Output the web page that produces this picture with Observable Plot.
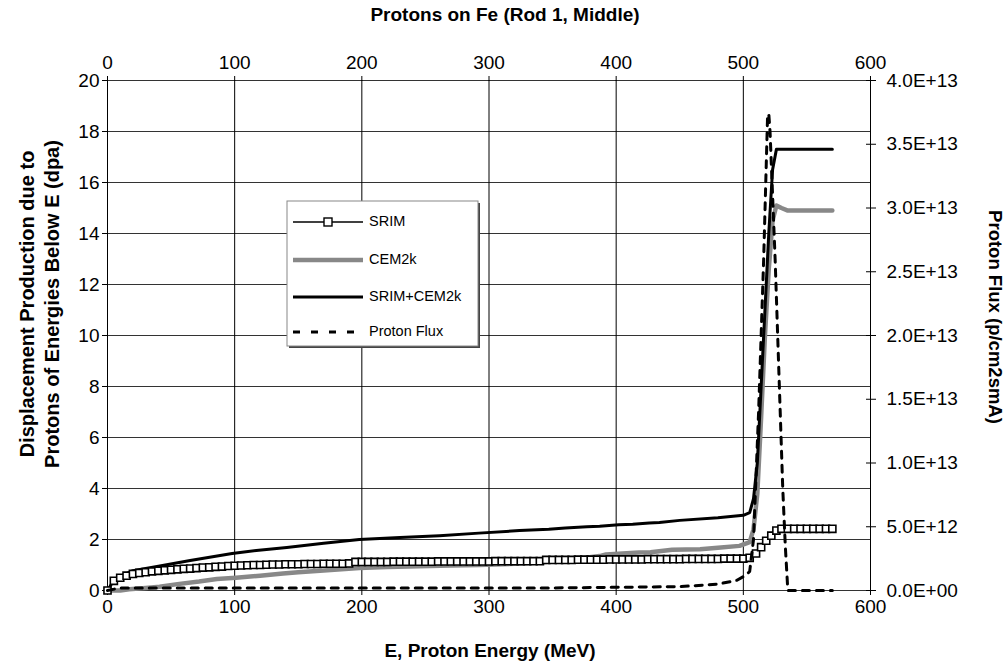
<!DOCTYPE html>
<html><head><meta charset="utf-8">
<script src="https://cdn.jsdelivr.net/npm/d3@7"></script>
<script src="https://cdn.jsdelivr.net/npm/@observablehq/plot@0.6"></script>
<style>body{margin:0;background:#fff} svg{display:block}</style>
</head><body><div id="chart"></div>
<script>
// ---- data ----
const xTicks = [0, 100, 200, 300, 400, 500, 600];
const yTicks = [0, 2, 4, 6, 8, 10, 12, 14, 16, 18, 20];
const fluxTicks = [0, 5e12, 1e13, 1.5e13, 2e13, 2.5e13, 3e13, 3.5e13, 4e13];
const fluxPerDpa = 2e12; // right axis 4.0E+13 <-> left axis 20

const srimE = [0,5,10,15,20,25,30,35,40,45,50,55,60,65,70,75,80,85,90,95,
  100,105,110,115,120,125,130,135,140,145,150,155,160,165,170,175,180,185,190,195,
  200,205,210,215,220,225,230,235,240,245,250,255,260,265,270,275,280,285,290,295,
  300,305,310,315,320,325,330,335,340,345,350,355,360,365,370,375,380,385,390,395,
  400,405,410,415,420,425,430,435,440,445,450,455,460,465,470,475,480,485,490,495,
  500,505,510,514,518,522,526,530,535,540,545,550,555,560,565,570];
const srimV = [0,0.38,0.5,0.58,0.65,0.69,0.72,0.75,0.77,0.79,0.81,0.83,0.85,0.86,0.88,0.9,0.91,0.93,0.94,0.96,
  0.97,0.98,0.99,1.0,1.0,1.01,1.02,1.02,1.03,1.03,1.03,1.04,1.04,1.04,1.05,1.05,1.05,1.05,1.06,1.12,
  1.12,1.12,1.12,1.12,1.12,1.13,1.13,1.13,1.13,1.13,1.13,1.13,1.14,1.14,1.14,1.14,1.14,1.14,1.14,1.14,
  1.14,1.15,1.15,1.15,1.15,1.15,1.15,1.15,1.15,1.2,1.2,1.2,1.2,1.2,1.21,1.21,1.21,1.21,1.21,1.22,
  1.22,1.22,1.22,1.22,1.22,1.23,1.23,1.23,1.23,1.23,1.23,1.24,1.24,1.24,1.24,1.24,1.24,1.25,1.25,1.25,
  1.25,1.28,1.45,1.7,1.95,2.15,2.35,2.42,2.42,2.42,2.42,2.42,2.42,2.42,2.42,2.42];

const cemE = [0,10,17,30,41,55,72,86,101,120,138,150,170,198,220,245,270,292,320,340,
  365,387,392,418,427,444,466,480,497,505,508,511,514,517,520,523,526,530,535,550,570];
const cemV = [0,0,0.05,0.1,0.15,0.25,0.35,0.45,0.5,0.58,0.67,0.72,0.78,0.88,0.92,0.95,0.98,1.0,1.05,1.1,
  1.22,1.35,1.41,1.49,1.5,1.6,1.62,1.68,1.75,1.9,2.4,3.8,6.8,10,12.6,14.5,15.1,15.0,14.9,14.9,14.9];

const totE = [0,5,10,20,40,65,98,117,141,170,198,230,261,292,324,347,360,377,387,402,
  413,426,434,450,480,500,505,508,511,514,517,520,523,526,540,555,570];
const totV = [0,0.4,0.55,0.78,0.95,1.18,1.45,1.57,1.69,1.85,2.0,2.08,2.15,2.25,2.35,2.4,2.45,2.5,2.52,2.58,
  2.6,2.65,2.67,2.75,2.85,2.95,3.05,3.6,5,8,11,14,16.5,17.3,17.3,17.3,17.3];

const fluxE = [0,10,50,100,150,200,250,300,350,400,450,480,495,502,505,508,512,516,519,520,
  521,523,525,527,529,531,533,535,540,550,570];
const fluxV = [0,2e11,2e11,2e11,2e11,2e11,2e11,2e11,2e11,2.5e11,3e11,5e11,8e11,1.2e12,1.5e12,4e12,1.4e13,2.6e13,3.7e13,3.74e13,
  3.6e13,3.1e13,2.6e13,2e13,1.4e13,8e12,3.5e12,0,0,0,0];

const seriesNames = ["SRIM", "CEM2k", "SRIM+CEM2k", "Proton Flux"];
const xTitleTop = "Protons on Fe (Rod 1, Middle)";
const xTitleBottom = "E, Proton Energy (MeV)";
const yTitleLeft = ["Displacement Production due to", "Protons of Energies Below E (dpa)"];
const yTitleRight = "Proton Flux (p/cm2smA)";

// ---- tables ----
const srim = srimE.map((e, i) => ({e, v: srimV[i]}));
const cem = cemE.map((e, i) => ({e, v: cemV[i]}));
const tot = totE.map((e, i) => ({e, v: totV[i]}));
const flux = fluxE.map((e, i) => ({e, v: fluxV[i] / fluxPerDpa}));
const rTicks = fluxTicks.map(f => f / fluxPerDpa);

function fmtFlux(d) {
  const f = d * fluxPerDpa;
  if (f === 0) return "0.0E+00";
  const [m, ex] = f.toExponential(1).split("e");
  const n = parseInt(ex, 10);
  return m + "E" + (n < 0 ? "-" : "+") + String(Math.abs(n)).padStart(2, "0");
}

const FONT = "Liberation Sans, Arial, Helvetica, sans-serif";
const TICK_FS = 19;

const plot = Plot.plot({
  width: 1007, height: 671,
  marginTop: 80, marginBottom: 81, marginLeft: 107, marginRight: 137,
  style: {fontFamily: FONT, fontSize: TICK_FS + "px", background: "white", color: "black"},
  x: {domain: [0, 600]},
  y: {domain: [0, 20]},
  marks: [
    Plot.gridY(yTicks, {stroke: "#333", strokeOpacity: 1, strokeWidth: 1}),
    Plot.gridX(xTicks, {stroke: "#000", strokeOpacity: 1, strokeWidth: 1}),
    Plot.axisX({anchor: "bottom", ticks: xTicks, tickSize: 5, tickPadding: 4, label: null, fontSize: TICK_FS}),
    Plot.axisX({anchor: "top", ticks: xTicks, tickSize: 5, tickPadding: 7, label: null, fontSize: TICK_FS}),
    Plot.axisY({anchor: "left", ticks: yTicks, tickSize: 5, tickPadding: 3, label: null, fontSize: TICK_FS}),
    Plot.axisY({anchor: "right", ticks: rTicks, tickSize: 10, dx: -5, text: null, label: null}),
    Plot.axisY({anchor: "right", ticks: rTicks, tickSize: 0, tickPadding: 16, tickFormat: fmtFlux, label: null, fontSize: TICK_FS}),
    Plot.line(cem, {x: "e", y: "v", stroke: "#888", strokeWidth: 4.5, strokeLinejoin: "round"}),
    Plot.line(tot, {x: "e", y: "v", stroke: "#000", strokeWidth: 3, strokeLinejoin: "round"}),
    Plot.line(srim, {x: "e", y: "v", stroke: "#000", strokeWidth: 1.4}),
    Plot.dot(srim, {x: "e", y: "v", symbol: "square", r: 4, fill: "white", stroke: "#000", strokeWidth: 1.6}),
    Plot.line(flux, {x: "e", y: "v", stroke: "#000", strokeWidth: 3, strokeDasharray: "7,7"})
  ]
});

document.getElementById("chart").appendChild(plot);

const svg = d3.select(plot);
const bold = (sel, fs) => sel.attr("font-family", FONT).attr("font-weight", "bold").attr("font-size", fs)
  .attr("text-anchor", "middle").attr("dominant-baseline", "middle").attr("fill", "black");

svg.append("text").call(bold, 19).attr("x", 505).attr("y", 16).text(xTitleTop);
svg.append("text").call(bold, 19).attr("x", 490).attr("y", 652).text(xTitleBottom);
svg.append("text").call(bold, 20).attr("transform", "translate(29,304) rotate(-90)").text(yTitleLeft[0]);
svg.append("text").call(bold, 20).attr("transform", "translate(54,304) rotate(-90)").text(yTitleLeft[1]);
svg.append("text").call(bold, 18.5).attr("transform", "translate(994,317) rotate(90)").text(yTitleRight);

// legend
const lg = svg.append("g");
lg.append("rect").attr("x", 289).attr("y", 203).attr("width", 191).attr("height", 145).attr("fill", "#444");
lg.append("rect").attr("x", 287).attr("y", 201).attr("width", 191).attr("height", 145)
  .attr("fill", "white").attr("stroke", "#888").attr("stroke-width", 1);
const rowsY = [222, 260, 297, 332];
const styles = [
  {stroke: "#000", w: 1.4, dash: null},
  {stroke: "#888", w: 4.5, dash: null},
  {stroke: "#000", w: 3, dash: null},
  {stroke: "#000", w: 3, dash: "7,11"}
];
seriesNames.forEach((name, i) => {
  const y = rowsY[i], s = styles[i];
  const l = lg.append("line").attr("x1", 293).attr("x2", 363).attr("y1", y).attr("y2", y)
    .attr("stroke", s.stroke).attr("stroke-width", s.w);
  if (s.dash) l.attr("stroke-dasharray", s.dash);
  if (i === 0) lg.append("rect").attr("x", 324).attr("y", y - 4).attr("width", 8).attr("height", 8)
    .attr("fill", "white").attr("stroke", "#000").attr("stroke-width", 1.4);
  lg.append("text").attr("x", 369).attr("y", y).attr("dominant-baseline", "middle")
    .attr("text-anchor", "start")
    .attr("font-family", FONT).attr("font-size", 14.5).attr("fill", "black").text(name);
});
</script></body></html>
